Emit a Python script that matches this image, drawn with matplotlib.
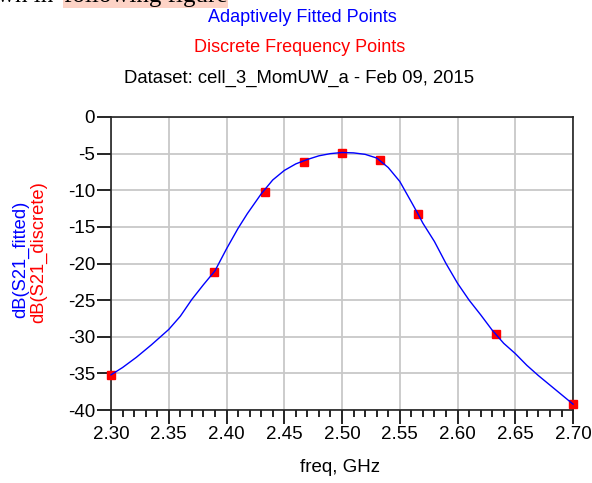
import matplotlib.pyplot as plt
from matplotlib.ticker import MultipleLocator

# fitted curve (freq GHz, dB)
fit_freq = [2.300, 2.310, 2.322, 2.335, 2.350, 2.360, 2.370, 2.380, 2.390,
            2.400, 2.410, 2.418, 2.430, 2.440, 2.450, 2.460, 2.470, 2.480,
            2.490, 2.500, 2.510, 2.520, 2.530, 2.540, 2.550, 2.560, 2.566,
            2.570, 2.580, 2.590, 2.600, 2.610, 2.620, 2.630, 2.640, 2.650,
            2.660, 2.670, 2.680, 2.690, 2.700]
fit_db = [-35.2, -34.2, -32.8, -31.1, -29.0, -27.2, -24.9, -22.9, -21.0,
          -18.0, -15.2, -13.2, -10.5, -8.6, -7.3, -6.4, -5.8, -5.3,
          -5.0, -4.85, -4.9, -5.1, -5.6, -6.9, -8.8, -11.6, -13.3,
          -14.5, -17.0, -20.0, -22.7, -25.0, -27.0, -29.1, -30.9, -32.3,
          -33.9, -35.3, -36.6, -37.9, -39.2]

# discrete frequency points
disc_freq = [2.300, 2.389, 2.433, 2.467, 2.500, 2.533, 2.566, 2.633, 2.700]
disc_db = [-35.2, -21.2, -10.2, -6.1, -4.9, -5.9, -13.3, -29.6, -39.2]

plt.rcParams['font.family'] = ['Liberation Sans', 'DejaVu Sans']
plt.rcParams['axes.unicode_minus'] = False

fig = plt.figure(figsize=(5.92, 4.83), dpi=100)
ax = fig.add_axes([0.1875, 0.1511, 0.7805, 0.6067])

ax.plot(disc_freq, disc_db, 's', color='red', markersize=6, zorder=3,
        clip_on=False)
ax.plot(fit_freq, fit_db, '-', color='#0000ff', linewidth=1, zorder=4,
        clip_on=False)

ax.set_xlim(2.30, 2.70)
ax.set_ylim(-40, 0)
ax.xaxis.set_major_locator(MultipleLocator(0.05))
ax.xaxis.set_minor_locator(MultipleLocator(0.01))
ax.yaxis.set_major_locator(MultipleLocator(5))
ax.set_xticks(ax.get_xticks())
ax.set_xticklabels([f"{v:.2f}" for v in ax.get_xticks()])
ax.set_xlim(2.30, 2.70)
ax.grid(True, which='major', color='#c8c8c8', linewidth=1.3)
ax.set_axisbelow(True)
for s in ax.spines.values():
    s.set_linewidth(1.2)
    s.set_color('#222222')
ax.tick_params(which='major', length=10, width=1.2, pad=1.5, labelsize=13.5)
ax.tick_params(axis='x', which='minor', length=5, width=1.2)

fig.text(39 / 592, 1 - 252 / 483, "dB(S21_discrete)", color='red',
         rotation=90, fontsize=13.2, ha='center', va='center')
fig.text(21 / 592, 1 - 259 / 483, "dB(S21_fitted)", color='#0000ff',
         rotation=90, fontsize=13.2, ha='center', va='center')

fig.text(340 / 592, 1 - 468 / 483, "freq, GHz", fontsize=13.5,
         ha='center', va='center')
fig.text(302 / 592, 1 - 18 / 483, "Adaptively Fitted Points",
         color='#0000ff', fontsize=13, ha='center', va='center')
fig.text(300 / 592, 1 - 48 / 483, "Discrete Frequency Points",
         color='red', fontsize=13, ha='center', va='center')
fig.text(299 / 592, 1 - 78 / 483, "Dataset: cell_3_MomUW_a - Feb 09, 2015",
         fontsize=13.3, ha='center', va='center')

# cropped sentence at the top edge
fig.text(-3 / 592, 1 - 2 / 483, "wn in", fontsize=18,
         family='Liberation Serif', va='baseline')
fig.text(64 / 592, 1 - 2 / 483, "following figure", fontsize=18,
         family='Liberation Serif', va='baseline',
         bbox=dict(facecolor='#fdd3c6', edgecolor='none', pad=0.5))

fig.savefig("out.png", dpi=100)
